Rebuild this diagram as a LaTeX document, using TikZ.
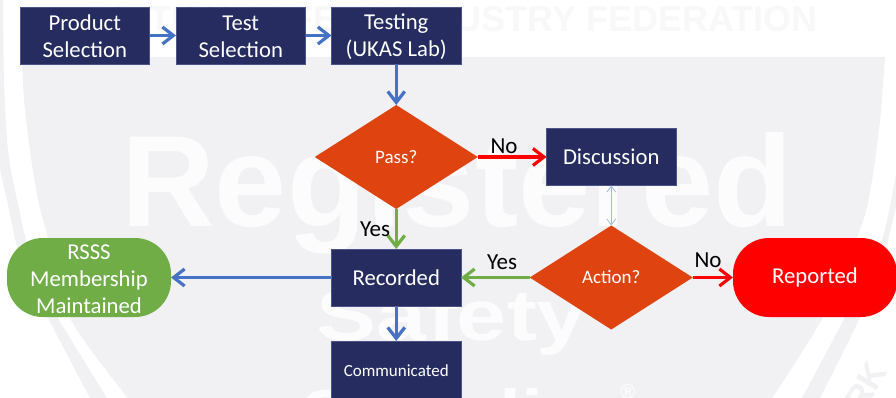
\documentclass[tikz,border=0pt]{standalone}
\usepackage{fontspec}
\setmainfont{Carlito}
\newfontfamily\wmfont[BoldFont={Liberation Sans Bold}]{Liberation Sans}
\usetikzlibrary{shapes.geometric,arrows.meta}
\definecolor{navy}{HTML}{262C60}
\definecolor{navyedge}{HTML}{4A5488}
\definecolor{burnt}{HTML}{DF4410}
\definecolor{flowblue}{HTML}{4472C4}
\definecolor{flowgreen}{HTML}{70AD47}
\definecolor{paleblue}{HTML}{A3BCE6}
\definecolor{wash}{HTML}{F1F1F4}
\definecolor{wmtop}{HTML}{F8F8F9}
\definecolor{wmbig}{HTML}{FCFCFD}
\newcommand{\dropline}[1]{\raisebox{-1.5pt}{#1}}
\tikzset{
  x=1pt,y=-1pt,
  bigtext/.style={font=\fontsize{22.7}{27}\selectfont,text=white,align=center},
  box/.style={bigtext,rectangle,fill=navy,draw=navyedge,line width=.6pt,minimum width=129.5pt,minimum height=57pt,inner sep=0pt,outer sep=0pt,anchor=north west},
  decide/.style={diamond,fill=burnt,minimum width=163pt,minimum height=104pt,inner sep=0pt,outer sep=0pt,text=white,font=\fontsize{19}{23}\selectfont},
  terminal/.style={bigtext,rectangle,rounded corners=36pt,minimum width=164pt,minimum height=79pt,inner sep=0pt,outer sep=0pt,anchor=north west},
  flow/.style={line width=3.2pt,-{Straight Barb[length=11pt,width=17pt,line width=3.2pt]}},
  lbl/.style={font=\fontsize{23}{27}\selectfont,text=black,inner sep=0pt},
  wm/.style={font=\wmfont\bfseries\fontsize{#1}{#1}\selectfont,inner sep=0pt}
}
\begin{document}
\begin{tikzpicture}
\useasboundingbox (0,0) rectangle (896,398);
\begin{scope}
\clip (0,0) rectangle (896,398);
\fill[white] (0,0) rectangle (896,398);
% outer ring of the watermark
\fill[wash] plot[smooth] coordinates {(-12,100) (-2,160) (7,200) (22,265) (48,318) (90,398)}
  -- plot[smooth] coordinates {(107,398) (58,318) (34,270) (17,200) (8,150) (4,80) (3,0)} -- (-12,0) -- cycle;
\fill[wash] plot[smooth] coordinates {(820,398) (860,317) (885,250) (900,190)}
  -- plot[smooth] coordinates {(900,150) (882,240) (845,317) (802,398)} -- cycle;
% inner field
\fill[wash] plot[smooth] coordinates {(22,57) (24,100) (30,150) (38,200) (48,237) (70,318) (128,398)}
  -- plot[smooth] coordinates {(772,398) (823,317) (861,227) (872,180) (880,120) (885,57)} -- cycle;
% watermark lettering
\node[wm=36,text=wmtop,anchor=base east] (wmhead) at (818,32) {BRITISH SAFETY INDUSTRY FEDERATION};
\node[wm=130,text=wmbig,anchor=base] (wmreg) at (457,226) {Registered};
\node[wm=72,text=wmbig,anchor=base,xscale=1.25] (wmsafe) at (452,340) {Safety};
\node[wm=72,text=wmbig,anchor=base,xscale=1.1] (wmsup) at (460,440) {Supplier};
\node[wm=20,text=wmbig,anchor=center] (wmreg2) at (628,392) {®};
\node[wm=34,text=wash,anchor=center,rotate=59] (wmmark) at (852,409) {MARK};
\end{scope}
% flow nodes
\node[box] (product) at (20,7) {\rule{0pt}{18pt}Product\\Selection};
\node[box] (test) at (176,7) {\rule{0pt}{18pt}Test\\Selection};
\node[box] (testing) at (331.5,7) {\rule{0pt}{18pt}Testing\\(UKAS Lab)};
\node[decide] (pass) at (396.25,157) {Pass?};
\node[box] (discussion) at (546.5,128.5) {\dropline{Discussion}};
\node[box] (recorded) at (331.5,249) {\dropline{Recorded}};
\node[decide] (action) at (611.25,277.5) {Action?};
\node[terminal,fill=flowgreen] (rsss) at (7,238) {\rule{0pt}{18pt}RSSS\\Membership\\Maintained};
\node[terminal,fill=red] (reported) at (733,238) {\dropline{Reported}};
\begin{scope}
\clip (0,0) rectangle (896,398);
\node[box,font=\fontsize{17}{20}\selectfont,minimum height=60pt] (comm) at (331.5,341) {Communicated};
\end{scope}
% connectors
\draw[flow,flowblue] (product.east) -- (test.west);
\draw[flow,flowblue] (test.east) -- (testing.west);
\draw[flow,flowblue] (testing.south) -- (pass.north);
\draw[flow,red] (pass.east) -- (discussion.west);
\draw[flow,flowgreen] (pass.south) -- (recorded.north);
\draw[flow,flowblue] (recorded.west) -- (rsss.east);
\draw[flow,flowblue] (recorded.south) -- (comm.north);
\draw[flow,flowgreen] (action.west) -- (recorded.east);
\draw[flow,red] (action.east) -- (reported.west);
\draw[paleblue,line width=.8pt,{Straight Barb[length=6pt,width=9pt]}-{Straight Barb[length=6pt,width=9pt]}] (discussion.south) -- (action.north);
% labels
\node[lbl] (nopass) at (504,146) {No};
\node[lbl] (yespass) at (375,229.5) {Yes};
\node[lbl] (yesaction) at (502,262.5) {Yes};
\node[lbl] (noaction) at (708,260) {No};
\end{tikzpicture}
\end{document}
